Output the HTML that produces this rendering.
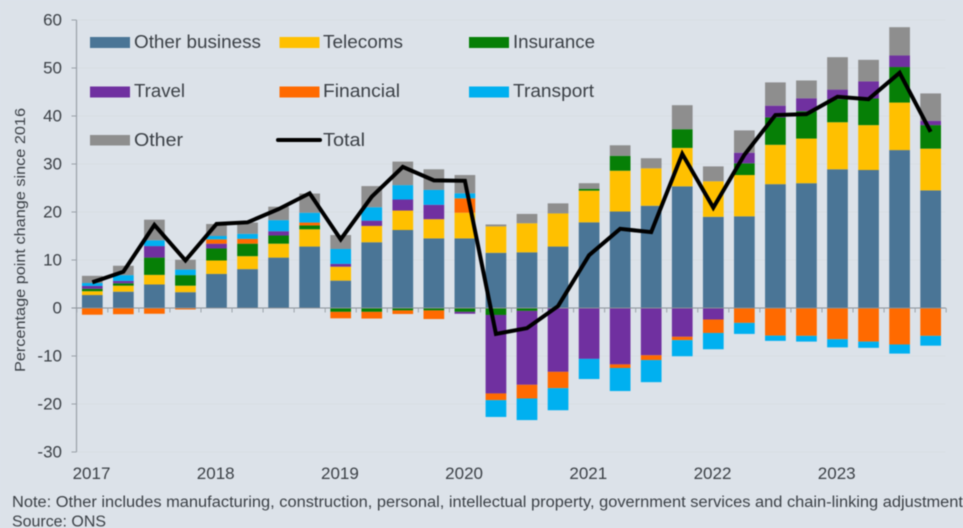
<!DOCTYPE html>
<html lang="en">
<head>
<meta charset="utf-8">
<title>Percentage point change since 2016</title>
<style>
html,body{margin:0;padding:0;width:963px;height:528px;overflow:hidden;background:#dce2e9;}
svg{display:block;filter:blur(0.5px);}
text{font-family:"Liberation Sans",sans-serif;fill:#3b4046;}
</style>
</head>
<body>
<svg id="chart" width="963" height="528" viewBox="0 0 963 528" xmlns="http://www.w3.org/2000/svg">
  <rect x="0" y="0" width="963" height="528" fill="#dce2e9"/>
  <g id="grid"></g>
  <g id="bars"></g>
  <g id="axes"></g>
  <g id="lineLayer"></g>

  <text transform="translate(25,372) rotate(-90)" font-size="15" textLength="264" lengthAdjust="spacingAndGlyphs">Percentage point change since 2016</text>

  <g font-size="18">
    <g><rect x="90" y="37" width="40" height="11" fill="#4a7596"/><text x="134" y="48" textLength="127" lengthAdjust="spacingAndGlyphs">Other business</text></g>
    <g><rect x="279.500" y="37" width="40" height="11" fill="#ffc000"/><text x="323" y="48" textLength="80" lengthAdjust="spacingAndGlyphs">Telecoms</text></g>
    <g><rect x="469" y="37" width="40" height="11" fill="#067f06"/><text x="513" y="48" textLength="82" lengthAdjust="spacingAndGlyphs">Insurance</text></g>
    <g><rect x="90" y="86.500" width="40" height="11" fill="#7030a0"/><text x="134" y="97" textLength="51" lengthAdjust="spacingAndGlyphs">Travel</text></g>
    <g><rect x="279.500" y="86.500" width="40" height="11" fill="#ff6a00"/><text x="323" y="97" textLength="77" lengthAdjust="spacingAndGlyphs">Financial</text></g>
    <g><rect x="469" y="86.500" width="40" height="11" fill="#00b0f0"/><text x="513" y="97" textLength="81" lengthAdjust="spacingAndGlyphs">Transport</text></g>
    <g><rect x="90" y="135" width="40" height="10.500" fill="#8e8e8e"/><text x="134" y="146" textLength="49" lengthAdjust="spacingAndGlyphs">Other</text></g>
    <g><line x1="278" y1="140" x2="320" y2="140" stroke="#000" stroke-width="4" stroke-linecap="round"/><text x="323" y="146" textLength="42" lengthAdjust="spacingAndGlyphs">Total</text></g>
  </g>

  <text x="12" y="507" font-size="15.500" textLength="951" lengthAdjust="spacingAndGlyphs">Note: Other includes manufacturing, construction, personal, intellectual property, government services and chain-linking adjustment</text>
  <text x="12" y="526.500" font-size="15.500" textLength="94" lengthAdjust="spacingAndGlyphs">Source: ONS</text>
</svg>

<script>
const quarters = ["2017Q1","2017Q2","2017Q3","2017Q4","2018Q1","2018Q2","2018Q3","2018Q4","2019Q1","2019Q2","2019Q3","2019Q4","2020Q1","2020Q2","2020Q3","2020Q4","2021Q1","2021Q2","2021Q3","2021Q4","2022Q1","2022Q2","2022Q3","2022Q4","2023Q1","2023Q2","2023Q3","2023Q4"];
const otherBusiness = [2.7,3.4,4.9,3.3,7.1,8.1,10.5,12.8,5.7,13.7,16.25,14.5,14.5,11.5,11.6,12.8,17.85,20.1,21.3,25.35,19,19.1,25.8,26,28.9,28.75,32.9,24.5];
const telecoms = [0.8,1.25,2,1.35,2.8,2.7,2.9,3.6,2.9,3.4,4.05,4,5.35,5.5,6.05,6.9,6.6,8.5,7.8,8,7.4,8.6,8.2,9.3,9.8,9.35,9.9,8.7];
const insurance = [0.5,0.5,3.6,2.2,2.5,2.6,1.7,0.8,-0.8,-0.8,-0.5,-0.5,-0.8,-1.45,-0.6,0,0.35,3.1,0,3.9,0,2.45,5.7,5.7,4.8,5.55,7.4,4.9];
const travel = [0.6,0.5,2.4,0,1,0,0.9,0,0.6,1.1,2.3,3,-0.4,-16.35,-15.4,-13.3,-10.6,-11.75,-9.85,-6,-2.4,2.2,2.45,2.7,2,3.55,2.4,0.9];
const financial = [-1.4,-1.3,-1.2,-0.3,0.9,1,0,0.6,-1.35,-1.4,-0.75,-1.8,3,-1.4,-2.85,-3.4,0,-0.75,-1,-0.7,-2.8,-3.1,-5.75,-5.8,-6.5,-7,-7.6,-5.8];
const transport = [0.6,1.2,1.2,1.15,0.7,1.05,2.3,2.05,3.1,2.8,3,3.1,1.05,-3.5,-4.5,-4.6,-4.2,-4.8,-4.6,-3.35,-3.4,-2.3,-1.1,-1.2,-1.7,-1.3,-1.9,-2.05];
const other = [1.5,1.95,4.3,2.05,2.5,2.35,2.8,4,2.9,4.4,4.9,4.3,3.8,0.4,1.95,2.1,1.2,2.2,2.1,5,3.1,4.65,4.85,3.7,6.75,4.5,5.9,5.7];
const total = [5.35,7.55,17.3,9.9,17.5,17.85,20.6,23.9,14.3,23.2,29.4,26.6,26.5,-5.4,-4.2,0.4,11,16.5,15.8,32.1,20.9,31.9,40.2,40.4,44,43.5,49,36.7];
const yTicks = [60,50,40,30,20,10,0,-10,-20,-30];
const yearLabels = ["2017","2018","2019","2020","2021","2022","2023"];

const seriesNames = ["other-business","telecoms","insurance","travel","financial","transport","other"];
const seriesValues = [otherBusiness,telecoms,insurance,travel,financial,transport,other];
const seriesColors = ["#4a7596","#ffc000","#067f06","#7030a0","#ff6a00","#00b0f0","#8e8e8e"];

const NS = "http://www.w3.org/2000/svg";
const ZERO_Y = 308, UNIT = 4.8, FIRST_X = 92.3, STEP = 31.05, BAR_W = 20.7, AXIS_X = 76.5;
function y(v){ return ZERO_Y - v * UNIT; }
function x(i){ return FIRST_X + i * STEP; }
function make(tag, attrs, parent){
  const el = document.createElementNS(NS, tag);
  for (const k in attrs) el.setAttribute(k, attrs[k]);
  parent.appendChild(el);
  return el;
}

const grid = document.getElementById("grid");
const bars = document.getElementById("bars");
const axes = document.getElementById("axes");
const lineLayer = document.getElementById("lineLayer");

yTicks.forEach(function(t){
  if (t !== 0) {
    const g = make("line",{x1:AXIS_X,x2:945.5,y1:y(t),y2:y(t),stroke:"#d7dde4","stroke-width":1},grid);
    
    
  }
  const tick = make("line",{x1:71.5,x2:AXIS_X,y1:y(t),y2:y(t),stroke:"#9aa1a8","stroke-width":1},axes);
  
  
  const lab = make("text",{x:62,y:y(t)+5.5,"text-anchor":"end","font-size":17},axes);
  lab.textContent = t;
  
  
});

quarters.forEach(function(q, i){
  let pos = 0, neg = 0;
  seriesValues.forEach(function(vals, s){
    const v = vals[i];
    if (!v) return;
    let top, bottom;
    if (v > 0) { top = pos + v; bottom = pos; pos = top; }
    else { top = neg; bottom = neg + v; neg = bottom; }
    const r = make("rect",{x:x(i)-BAR_W/2,y:y(top),width:BAR_W,height:y(bottom)-y(top),fill:seriesColors[s]},bars);
    
    
  });
});

const yAxis = make("line",{x1:AXIS_X,x2:AXIS_X,y1:y(60),y2:y(-30),stroke:"#9aa1a8","stroke-width":1.2},axes);


const xAxis = make("line",{x1:71.5,x2:945.8,y1:ZERO_Y,y2:ZERO_Y,stroke:"#8a9199","stroke-width":1.1},axes);



for (let i = 0; i <= quarters.length; i++) {
  const tx = x(i) - STEP / 2;
  const tk = make("line",{x1:tx,x2:tx,y1:ZERO_Y,y2:ZERO_Y+4.5,stroke:"#9aa1a8","stroke-width":1},axes);
  
  
}

yearLabels.forEach(function(label, i){
  const t = make("text",{x:x(i*4)-0.8,y:479,"text-anchor":"middle","font-size":17},axes);
  t.textContent = label;
  
  
});

const totalLine = make("polyline",{
  points: total.map(function(v,i){ return x(i).toFixed(2) + "," + y(v).toFixed(2); }).join(" "),
  fill:"none",stroke:"#000","stroke-width":4,"stroke-linejoin":"miter","stroke-miterlimit":3,"stroke-linecap":"butt"
},lineLayer);


</script>
</body>
</html>
